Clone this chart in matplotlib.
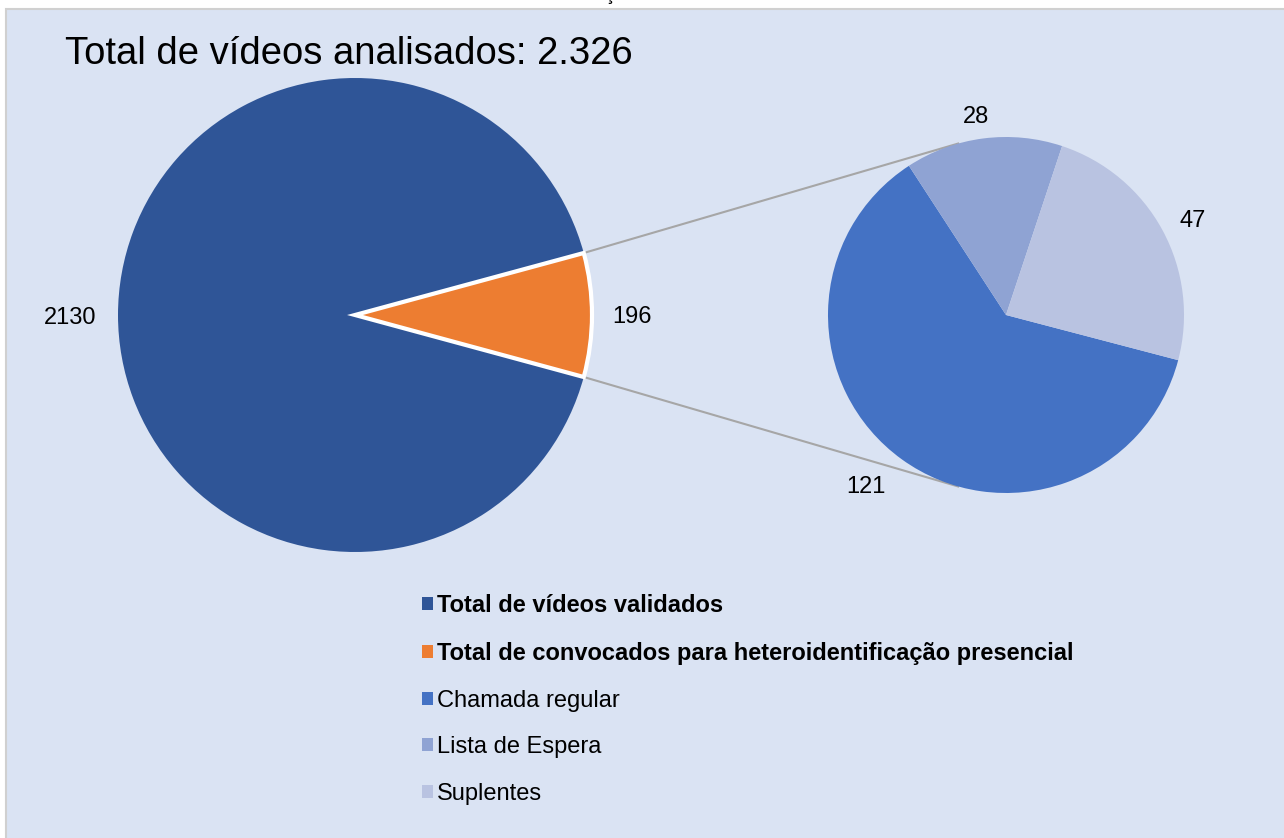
import matplotlib
matplotlib.use('Agg')
import matplotlib.pyplot as plt
from matplotlib.patches import Rectangle, Patch
import numpy as np

plt.rcParams['font.family'] = ['Liberation Sans', 'DejaVu Sans']

# ---- data ----
title = "Total de vídeos analisados: 2.326"
main_labels = ["Total de vídeos validados",
               "Total de convocados para heteroidentificação presencial"]
main_values = [2130, 196]
sub_labels = ["Chamada regular", "Lista de Espera", "Suplentes"]
sub_values = [121, 28, 47]

# ---- style ----
main_colors = ['#2F5597', '#ED7D31']
sub_colors = ['#4472C4', '#8FA3D3', '#B9C3E1']
W, H = 1284, 838

fig = plt.figure(figsize=(W / 100, H / 100), dpi=100, facecolor='white')
fig.patches.append(Rectangle((6 / W, -0.01), (W - 6) / W + 0.02, 829 / H + 0.01,
                             transform=fig.transFigure, facecolor='#DAE3F3',
                             edgecolor='#D0D0D0', linewidth=1.5, zorder=-5))
# cut-off heading remnant at the very top
fig.text(604 / W, 1.0, "ç", fontsize=14, va='baseline', ha='left', color='black')

ax = fig.add_axes([0, 0, 1, 1])
ax.set_facecolor('none')
ax.set_zorder(1)

# main pie
c1, r1 = (355, 523), 237
start1 = 180 * main_values[1] / sum(main_values)
w1, _ = ax.pie(main_values, colors=main_colors, radius=r1, center=c1,
               startangle=start1, counterclock=True,
               wedgeprops=dict(linewidth=0))
w1[1].set_edgecolor('white')
w1[1].set_linewidth(3)

# secondary pie
c2, r2 = (1006, 523), 178
w2, _ = ax.pie(sub_values, colors=sub_colors, radius=r2, center=c2,
               startangle=-14.7, counterclock=False,
               wedgeprops=dict(linewidth=0))

# connector lines
link_angle = 105.6
a_top = np.deg2rad(w1[1].theta2)
a_bot = np.deg2rad(w1[1].theta1)
for a_src, a_dst in [(a_top, np.deg2rad(link_angle)), (a_bot, np.deg2rad(-link_angle))]:
    x0 = c1[0] + r1 * np.cos(a_src); y0 = c1[1] + r1 * np.sin(a_src)
    x1 = c2[0] + r2 * np.cos(a_dst); y1 = c2[1] + r2 * np.sin(a_dst)
    ax.plot([x0, x1], [y0, y1], color='#A6A6A6', lw=1.5, zorder=0.5)

# data labels (distance factor, angular shift in degrees)
main_pos = [(1.2, 0.0), (1.17, 0.0)]
sub_pos = [(1.233, -3.8), (1.136, 1.1), (1.184, -1.1)]
for wedges, vals, c, r, pos in [(w1, main_values, c1, r1, main_pos),
                                 (w2, sub_values, c2, r2, sub_pos)]:
    for wdg, v, (d, sh) in zip(wedges, vals, pos):
        mid = np.deg2rad((wdg.theta1 + wdg.theta2) / 2 + sh)
        ax.text(c[0] + d * r * np.cos(mid), c[1] + d * r * np.sin(mid), str(v),
                ha='center', va='center_baseline', fontsize=17, color='black')

ax.set_xlim(0, W)
ax.set_ylim(0, H)
ax.axis('off')

fig.text(65 / W, (H - 64) / H, title, fontsize=27.5, va='baseline', ha='left',
         color='black')

handles = [Patch(facecolor=c, edgecolor='none', label=l)
           for c, l in zip(main_colors + sub_colors, main_labels + sub_labels)]
leg = fig.legend(handles=handles, loc='upper left',
                 bbox_to_anchor=(422 / W, (H - 594) / H), frameon=False,
                 fontsize=17, handlelength=0.47, handleheight=0.47,
                 handletextpad=0.17, labelspacing=1.05, borderaxespad=0,
                 borderpad=0)
for t in leg.get_texts()[:2]:
    t.set_fontweight('bold')

fig.savefig('out.png', dpi=100, facecolor='white')
